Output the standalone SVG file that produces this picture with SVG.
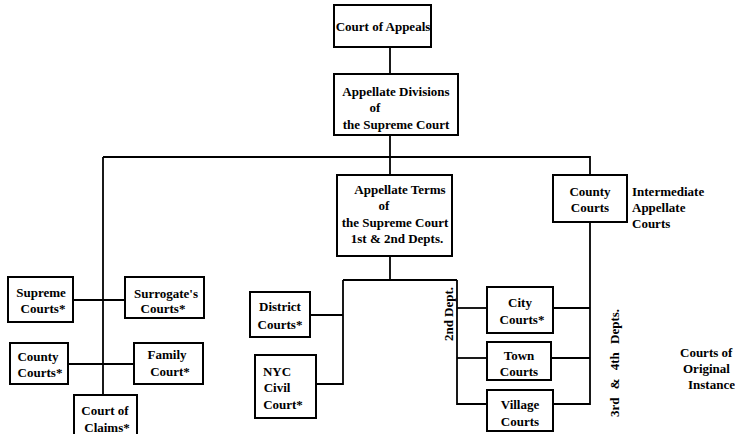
<svg xmlns="http://www.w3.org/2000/svg" width="735" height="434" viewBox="0 0 735 434">
<style>
.b{fill:#fff;stroke:#000;stroke-width:2}
.t{font-family:"Liberation Serif","Times New Roman",serif;font-weight:bold;font-size:13px;fill:#000;text-anchor:middle}
.l{font-family:"Liberation Serif","Times New Roman",serif;font-weight:bold;font-size:13px;fill:#000}
.c{fill:none;stroke:#000;stroke-width:1.8}
</style>
<rect width="735" height="434" fill="#fff"/>
<g id="connectors">
<path class="c" d="M390,47V74"/>
<path class="c" d="M390,135V175"/>
<path class="c" d="M103,157H590V175"/>
<path class="c" d="M103,157V395"/>
<path class="c" d="M73,300H125"/>
<path class="c" d="M68,364H134"/>
<path class="c" d="M390,256V280"/>
<path class="c" d="M343,280H457"/>
<path class="c" d="M343,280V384H316"/>
<path class="c" d="M310,315H343"/>
<path class="c" d="M457,280V404H487"/>
<path class="c" d="M457,308H487"/>
<path class="c" d="M457,358H487"/>
<path class="c" d="M590,222V404H553"/>
<path class="c" d="M553,308H590"/>
<path class="c" d="M551,358H590"/>
</g>
<g id="court-of-appeals"><rect class="b" x="334" y="5" width="97" height="42"/><text class="t" x="383" y="31">Court of Appeals</text></g>
<g id="appellate-divisions"><rect class="b" x="334" y="74" width="124" height="61"/><text class="t" x="396" y="96">Appellate Divisions</text><text class="t" x="375" y="112">of</text><text class="t" x="396" y="129">the Supreme Court</text></g>
<g id="appellate-terms"><rect class="b" x="337" y="175" width="115" height="81"/><text class="t" x="400" y="194">Appellate Terms</text><text class="t" x="384" y="210">of</text><text class="t" x="395" y="227">the Supreme Court</text><text class="t" x="397" y="243">1st &amp; 2nd Depts.</text></g>
<g id="county-courts-int"><rect class="b" x="553" y="175" width="74" height="47"/><text class="t" x="590" y="196">County</text><text class="t" x="590" y="212">Courts</text></g>
<g id="label-intermediate"><text class="l" x="632" y="196">Intermediate</text><text class="l" x="632" y="212">Appellate</text><text class="l" x="632" y="228">Courts</text></g>
<g id="supreme-courts"><rect class="b" x="8" y="277" width="65" height="45"/><text class="t" x="41" y="297">Supreme</text><text class="t" x="43" y="313">Courts*</text></g>
<g id="surrogates-courts"><rect class="b" x="125" y="277" width="79" height="41"/><text class="t" x="166" y="298">Surrogate's</text><text class="t" x="163" y="313">Courts*</text></g>
<g id="county-courts"><rect class="b" x="10" y="343" width="58" height="41"/><text class="t" x="38" y="361">County</text><text class="t" x="40" y="377">Courts*</text></g>
<g id="family-court"><rect class="b" x="134" y="343" width="69" height="41"/><text class="t" x="167" y="359">Family</text><text class="t" x="170" y="376">Court*</text></g>
<g id="court-of-claims"><rect class="b" x="74" y="395" width="63" height="42"/><text class="t" x="105" y="415">Court of</text><text class="t" x="107" y="432">Claims*</text></g>
<g id="district-courts"><rect class="b" x="250" y="292" width="60" height="45"/><text class="t" x="280" y="311">District</text><text class="t" x="280" y="329">Courts*</text></g>
<g id="nyc-civil-court"><rect class="b" x="255" y="355" width="61" height="63"/><text class="t" x="277" y="376">NYC</text><text class="t" x="277" y="392">Civil</text><text class="t" x="283" y="409">Court*</text></g>
<g id="city-courts"><rect class="b" x="487" y="287" width="66" height="46"/><text class="t" x="520" y="307">City</text><text class="t" x="522" y="324">Courts*</text></g>
<g id="town-courts"><rect class="b" x="487" y="342" width="64" height="38"/><text class="t" x="519" y="360">Town</text><text class="t" x="519" y="376">Courts</text></g>
<g id="village-courts"><rect class="b" x="487" y="390" width="66" height="41"/><text class="t" x="520" y="409">Village</text><text class="t" x="520" y="426">Courts</text></g>
<g id="label-2nd"><text class="t" transform="translate(453,314) rotate(-90)">2nd Dept.</text></g>
<g id="label-3rd4th"><text class="t" transform="translate(619,363) rotate(-90)" word-spacing="5">3rd &amp; 4th Depts.</text></g>
<g id="label-original"><text class="l" x="680" y="357">Courts of</text><text class="l" x="683" y="373">Original</text><text class="l" x="688" y="389">Instance</text></g>
</svg>
